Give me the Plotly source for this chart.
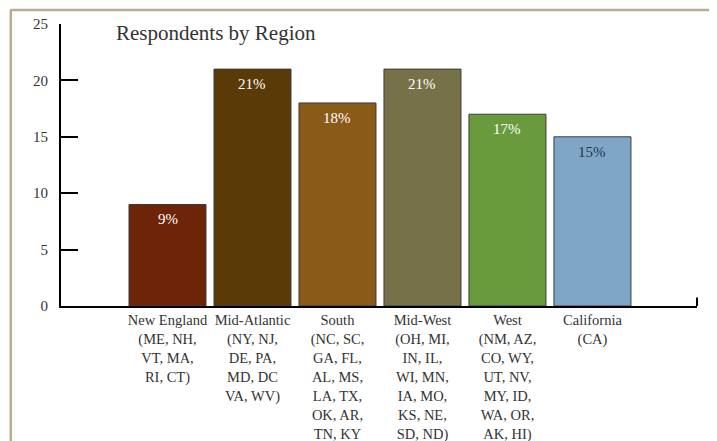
import plotly.graph_objects as go

regions = ["New England", "Mid-Atlantic", "South", "Mid-West", "West", "California"]
states = [
    "(ME, NH,<br>VT, MA,<br>RI, CT)",
    "(NY, NJ,<br>DE, PA,<br>MD, DC<br>VA, WV)",
    "(NC, SC,<br>GA, FL,<br>AL, MS,<br>LA, TX,<br>OK, AR,<br>TN, KY",
    "(OH, MI,<br>IN, IL,<br>WI, MN,<br>IA, MO,<br>KS, NE,<br>SD, ND)",
    "(NM, AZ,<br>CO, WY,<br>UT, NV,<br>MY, ID,<br>WA, OR,<br>AK, HI)",
    "(CA)",
]
values = [9, 21, 18, 21, 17, 15]
colors = ["#6e2408", "#5a3b07", "#8a5a18", "#77714a", "#699a3c", "#7fa6c6"]
text_colors = ["#ffffff", "#ffffff", "#ffffff", "#ffffff", "#ffffff", "#23364e"]
y_ticks = [0, 5, 10, 15, 20, 25]

FONT = "Liberation Serif"

x_idx = list(range(len(regions)))
ticktext = [f"{r}<br>{s}" for r, s in zip(regions, states)]

fig = go.Figure(
    go.Bar(
        x=x_idx,
        y=values,
        marker=dict(color=colors, line=dict(color="#3c3c3c", width=1)),
        hoverinfo="skip",
    )
)

annotations = [
    dict(
        text="Respondents by Region",
        xref="paper", yref="paper",
        x=0.084, y=0.968,
        xanchor="left", yanchor="middle",
        showarrow=False,
        font=dict(family=FONT, size=21, color="#333333"),
    )
]
for i, v, c in zip(x_idx, values, text_colors):
    annotations.append(dict(
        x=i, y=v, xref="x", yref="y",
        text=f"{v}%", showarrow=False,
        yanchor="middle", yshift=-15,
        font=dict(family=FONT, size=15, color=c),
    ))

fig.update_layout(
    width=709,
    height=433,
    margin=dict(l=53, r=20, t=16, b=135, autoexpand=False),
    paper_bgcolor="white",
    plot_bgcolor="white",
    bargap=0.094,
    showlegend=False,
    font=dict(family=FONT, size=15, color="#333333"),
    annotations=annotations,
    shapes=[
        # right end tick of x axis
        dict(type="line", xref="paper", yref="paper", x0=1, x1=1, y0=0, y1=0.03,
             line=dict(color="black", width=2)),
        # page border
        dict(type="line", xref="paper", yref="paper", x0=-0.08, x1=1.04, y0=1.05, y1=1.05,
             line=dict(color="#b8ae8e", width=2.5)),
        dict(type="line", xref="paper", yref="paper", x0=-0.079, x1=-0.079, y0=1.05, y1=-0.5,
             line=dict(color="#b8ae8e", width=2.5)),
    ],
)

fig.update_xaxes(
    range=[-1.253, 6.23],
    tickvals=x_idx,
    ticktext=ticktext,
    showline=True,
    linecolor="black",
    linewidth=2,
    ticks="",
    showgrid=False,
    zeroline=False,
    automargin=False,
    tickfont=dict(family=FONT, size=14.5, color="#333333"),
)

fig.update_yaxes(
    range=[0, 25],
    tickvals=y_ticks,
    showline=True,
    linecolor="black",
    linewidth=2,
    ticks="inside",
    ticklen=17,
    tickwidth=2,
    tickcolor="black",
    showgrid=False,
    zeroline=False,
    automargin=False,
    ticklabelstandoff=8,
    tickfont=dict(family=FONT, size=15, color="#333333"),
)

fig.write_html("out.html")
